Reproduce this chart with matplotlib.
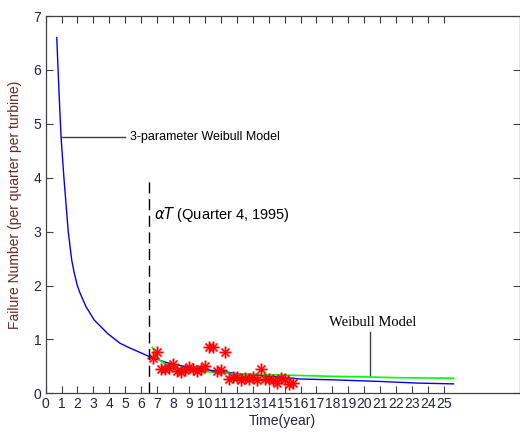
import numpy as np
import matplotlib
matplotlib.use('Agg')
import matplotlib.pyplot as plt

# Values
BLUE_T = [0.70, 0.84, 0.97, 1.15, 1.42, 1.64, 1.80, 1.99, 2.16, 2.53, 3.05, 3.89,
          4.66, 5.14, 5.60, 6.60, 7.70, 9.35, 11.2, 12.2, 15.1, 16.0, 18.0, 21.0, 23.3, 25.6]
BLUE_Y = [6.60, 5.60, 4.75, 4.00, 3.00, 2.47, 2.23, 2.00, 1.86, 1.61, 1.36, 1.11,
          0.93, 0.86, 0.80, 0.67, 0.56, 0.46, 0.40, 0.36, 0.29, 0.265, 0.25, 0.22, 0.19, 0.175]
GREEN_T = [6.7, 7.0, 7.6, 8.85, 10.5, 12.0, 14.0, 16.0, 18.0, 20.0, 22.0, 25.6]
GREEN_Y = [0.85, 0.65, 0.52, 0.43, 0.39, 0.36, 0.345, 0.33, 0.315, 0.305, 0.29, 0.28]
OBS_T = [6.75, 7.0, 7.25, 7.5, 7.75, 8.0, 8.25, 8.5, 8.75, 9.0, 9.25, 9.5,
         9.75, 10.0, 10.25, 10.5, 10.75, 11.0, 11.25, 11.5, 11.75, 12.0, 12.25, 12.5,
         12.75, 13.0, 13.25, 13.5, 13.75, 14.0, 14.25, 14.5, 14.75, 15.0, 15.25, 15.5]
OBS_Y = [0.65, 0.76, 0.45, 0.46, 0.47, 0.54, 0.41, 0.40, 0.44, 0.48, 0.46, 0.42,
         0.45, 0.51, 0.86, 0.85, 0.42, 0.44, 0.76, 0.27, 0.30, 0.30, 0.25, 0.28,
         0.27, 0.31, 0.25, 0.45, 0.27, 0.26, 0.25, 0.19, 0.28, 0.26, 0.18, 0.20]
XTICKS = list(range(0, 26))
YTICKS = list(range(0, 8))
ALPHA_T = 6.5

plt.rcParams['font.family'] = ['Liberation Sans', 'DejaVu Sans']

fig = plt.figure(figsize=(5.2, 4.36), dpi=100)
ax = fig.add_axes([45.6 / 520, 42.7 / 436, 474 / 520, 377.3 / 436])

ax.plot(BLUE_T, BLUE_Y, color='#0000ff', lw=1.0)
ax.plot(GREEN_T, GREEN_Y, color='#00ff00', lw=1.2)

# asterisk markers (MATLAB style '*'), with a soft halo
for m, s in (('+', 8.5), ('x', 6)):
    ax.plot(OBS_T, OBS_Y, ls='none', marker=m, ms=s, mew=2.2, color='#ff0000', alpha=0.25)
    ax.plot(OBS_T, OBS_Y, ls='none', marker=m, ms=s, mew=1.0, color='#ff0000')

ax.plot([ALPHA_T, ALPHA_T], [0, 4], color='black', lw=1.0, dashes=(8, 4))

# annotations
ax.plot([0.97, 4.98], [4.75, 4.75], color='#404040', lw=1.0)
ax.text(5.3, 4.75, '3-parameter Weibull Model', fontsize=9, va='center', ha='left')
ax.text(6.8, 3.31, r'$\alpha T$ (Quarter 4, 1995)', fontsize=10.5, va='center', ha='left')
ax.plot([20.34, 20.34], [0.34, 1.14], color='#404040', lw=1.0)
ax.text(20.5, 1.32, 'Weibull Model', fontsize=10.5, va='center', ha='center',
        family='Liberation Serif')

ax.set_xlim(0, 29.75)
ax.set_ylim(0, 7)
ax.set_xticks(XTICKS)
ax.set_yticks(YTICKS)
ax.tick_params(direction='in', length=5, width=0.8, top=True, right=True,
               labelsize=10, colors='#404040', labelcolor='#222244', pad=3)
for sp in ax.spines.values():
    sp.set_color('#404040')
    sp.set_linewidth(0.9)

ax.set_xlabel('Time(year)', fontsize=10, color='#222244', labelpad=2)
ax.set_ylabel('Failure Number (per quarter per turbine)', fontsize=10, color='#6a2a20', labelpad=8)

plt.savefig('out.png', dpi=100)
